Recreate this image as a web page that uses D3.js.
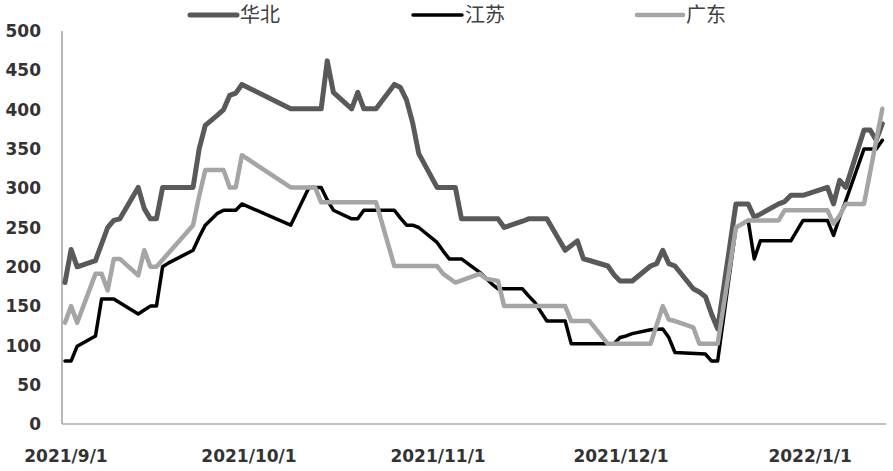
<!DOCTYPE html>
<html>
<head>
<meta charset="utf-8">
<script src="https://cdn.jsdelivr.net/npm/d3@7"></script>
<style>
  html, body { margin: 0; padding: 0; background: #ffffff; }
  svg { display: block; }
</style>
</head>
<body>
<svg id="chart" width="893" height="471"></svg>
<script>
// ---------- data ----------
const seriesNames = ["华北", "江苏", "广东"];

const huabeiDates = ["2021-09-01","2021-09-02","2021-09-03","2021-09-06","2021-09-08","2021-09-09","2021-09-10","2021-09-13","2021-09-14","2021-09-15","2021-09-16","2021-09-17","2021-09-22","2021-09-23","2021-09-24","2021-09-26","2021-09-27","2021-09-28","2021-09-29","2021-09-30","2021-10-08","2021-10-13","2021-10-14","2021-10-15","2021-10-18","2021-10-19","2021-10-20","2021-10-22","2021-10-25","2021-10-26","2021-10-27","2021-10-28","2021-10-29","2021-11-01","2021-11-04","2021-11-05","2021-11-11","2021-11-12","2021-11-15","2021-11-16","2021-11-19","2021-11-22","2021-11-24","2021-11-25","2021-11-26","2021-11-29","2021-11-30","2021-12-01","2021-12-03","2021-12-06","2021-12-07","2021-12-08","2021-12-09","2021-12-10","2021-12-13","2021-12-14","2021-12-15","2021-12-16","2021-12-17","2021-12-20","2021-12-22","2021-12-23","2021-12-24","2021-12-27","2021-12-28","2021-12-29","2021-12-31","2022-01-04","2022-01-05","2022-01-06","2022-01-07","2022-01-10","2022-01-11","2022-01-12","2022-01-13"];
const huabeiValues = [180,222,200,208,250,259,261,301,274,261,261,301,301,350,380,393,400,418,421,432,401,401,462,422,401,422,401,401,432,428,412,383,344,301,301,261,261,250,258,261,261,221,233,210,208,201,190,182,182,201,204,221,204,201,172,168,162,140,121,280,280,263,267,280,283,291,291,301,280,310,301,374,374,361,382];

const jiangsuDates = ["2021-09-01","2021-09-02","2021-09-03","2021-09-06","2021-09-07","2021-09-09","2021-09-13","2021-09-14","2021-09-15","2021-09-16","2021-09-17","2021-09-18","2021-09-22","2021-09-23","2021-09-24","2021-09-26","2021-09-27","2021-09-29","2021-09-30","2021-10-08","2021-10-11","2021-10-12","2021-10-13","2021-10-14","2021-10-15","2021-10-18","2021-10-19","2021-10-20","2021-10-25","2021-10-26","2021-10-27","2021-10-28","2021-10-29","2021-11-01","2021-11-02","2021-11-03","2021-11-05","2021-11-08","2021-11-10","2021-11-11","2021-11-15","2021-11-16","2021-11-17","2021-11-18","2021-11-19","2021-11-22","2021-11-23","2021-11-30","2021-12-01","2021-12-02","2021-12-03","2021-12-06","2021-12-08","2021-12-09","2021-12-10","2021-12-15","2021-12-16","2021-12-17","2021-12-20","2021-12-22","2021-12-23","2021-12-24","2021-12-29","2021-12-31","2022-01-04","2022-01-05","2022-01-06","2022-01-07","2022-01-10","2022-01-12","2022-01-13"];
const jiangsuValues = [80,80,99,112,159,159,140,145,150,150,200,205,221,238,253,268,272,272,280,253,301,301,301,285,272,261,261,272,272,262,253,253,250,231,220,210,210,193,178,172,172,163,155,143,131,131,102,102,110,112,115,120,121,110,91,89,80,80,250,259,210,233,233,259,259,240,263,284,350,350,361];

const guangdongDates = ["2021-09-01","2021-09-02","2021-09-03","2021-09-06","2021-09-07","2021-09-08","2021-09-09","2021-09-10","2021-09-13","2021-09-14","2021-09-15","2021-09-16","2021-09-22","2021-09-23","2021-09-24","2021-09-27","2021-09-28","2021-09-29","2021-09-30","2021-10-08","2021-10-12","2021-10-13","2021-10-22","2021-10-25","2021-11-01","2021-11-02","2021-11-04","2021-11-08","2021-11-09","2021-11-11","2021-11-12","2021-11-22","2021-11-23","2021-11-26","2021-11-29","2021-12-06","2021-12-08","2021-12-09","2021-12-10","2021-12-13","2021-12-14","2021-12-17","2021-12-20","2021-12-22","2021-12-27","2021-12-28","2022-01-04","2022-01-05","2022-01-06","2022-01-07","2022-01-10","2022-01-13"];
const guangdongValues = [129,150,129,191,191,170,210,210,189,221,200,200,253,290,323,323,301,301,342,301,301,282,282,201,201,191,180,191,185,182,150,150,131,131,102,102,150,133,131,123,102,102,250,259,259,272,272,255,265,280,280,401];

const xTickDates = ["2021-09-01","2021-10-01","2021-11-01","2021-12-01","2022-01-01"];
const xTickLabels = ["2021/9/1","2021/10/1","2021/11/1","2021/12/1","2022/1/1"];
const yTicks = [0,50,100,150,200,250,300,350,400,450,500];

// ---------- chart ----------
const parse = d3.timeParse("%Y-%m-%d");
const svg = d3.select("#chart");

const x = d3.scaleTime()
  .domain([new Date(2021, 7, 31, 12, 14), new Date(2022, 0, 13, 14, 24)])
  .range([62, 886]);
const y = d3.scaleLinear().domain([0, 500]).range([424, 31]);

const labelFont = "DejaVu Sans";

// y axis line
svg.append("line")
  .attr("x1", 62).attr("x2", 62)
  .attr("y1", y(500)).attr("y2", y(0))
  .attr("stroke", "#b8b8b8").attr("stroke-width", 2);
// x axis line
svg.append("line")
  .attr("x1", 62).attr("x2", 886)
  .attr("y1", y(0)).attr("y2", y(0))
  .attr("stroke", "#a8a8a8").attr("stroke-width", 1.6);

// y tick labels
svg.append("g").selectAll("text")
  .data(yTicks).join("text")
  .attr("x", 41)
  .attr("y", d => y(d))
  .attr("dy", "0.36em")
  .attr("text-anchor", "end")
  .attr("font-family", labelFont)
  .attr("font-weight", "bold")
  .attr("font-size", 17)
  .attr("fill", "#333")
  .text(d => d);

// x tick labels
svg.append("g").selectAll("text")
  .data(xTickDates.map((d, i) => ({ date: parse(d), label: xTickLabels[i] })))
  .join("text")
  .attr("x", d => x(d.date) + 1)
  .attr("y", 462)
  .attr("text-anchor", "middle")
  .attr("font-family", labelFont)
  .attr("font-weight", "bold")
  .attr("font-size", 17)
  .attr("fill", "#333")
  .text(d => d.label);

const series = [
  { name: seriesNames[0], dates: huabeiDates, values: huabeiValues, color: "#595959", width: 5 },
  { name: seriesNames[1], dates: jiangsuDates, values: jiangsuValues, color: "#000000", width: 3.5 },
  { name: seriesNames[2], dates: guangdongDates, values: guangdongValues, color: "#a5a5a5", width: 4.5 }
];

const line = d3.line()
  .x(d => x(d.date))
  .y(d => y(d.value));

series.forEach(s => {
  const pts = s.dates.map((d, i) => ({ date: parse(d), value: s.values[i] }));
  svg.append("path")
    .datum(pts)
    .attr("d", line)
    .attr("fill", "none")
    .attr("stroke", s.color)
    .attr("stroke-width", s.width)
    .attr("stroke-linejoin", "round")
    .attr("stroke-linecap", "round");
});

// legend
const legendPos = [
  { x1: 190, x2: 237, tx: 240 },
  { x1: 413, x2: 462, tx: 465 },
  { x1: 637, x2: 683, tx: 686 }
];
series.forEach((s, i) => {
  const p = legendPos[i];
  svg.append("line")
    .attr("x1", p.x1).attr("x2", p.x2)
    .attr("y1", 15).attr("y2", 15)
    .attr("stroke", s.color)
    .attr("stroke-width", s.width)
    .attr("stroke-linecap", "round");
  svg.append("text")
    .attr("x", p.tx)
    .attr("y", 15)
    .attr("dy", "0.36em")
    .attr("font-family", "Noto Sans CJK SC")
    .attr("font-size", 20)
    .attr("fill", "#404040")
    .text(s.name);
});
</script>
</body>
</html>
